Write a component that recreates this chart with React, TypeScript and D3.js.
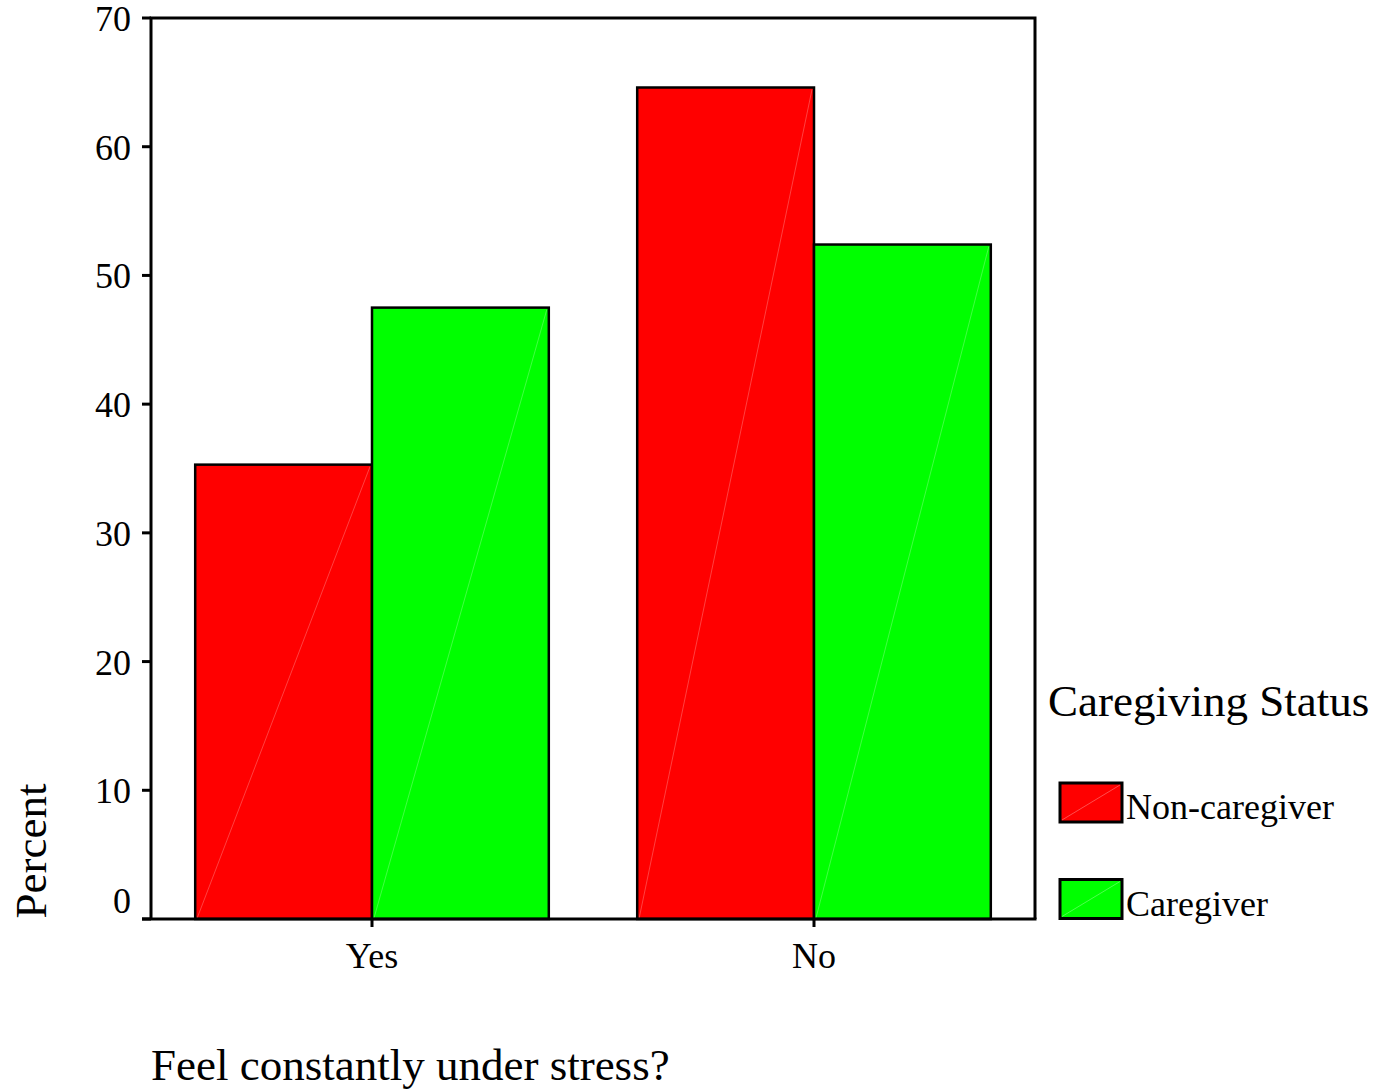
import React from "react";
import * as d3 from "d3";

const categories = ["Yes", "No"];
const seriesNames = ["Non-caregiver", "Caregiver"];
const nonCaregiver = [35.3, 64.6];
const caregiver = [47.5, 52.4];
const seriesColors = ["#ff0000", "#00ff00"];
const yTicks = [0, 10, 20, 30, 40, 50, 60, 70];

const FONT = "'Liberation Serif', 'Times New Roman', serif";

export default function App() {
  const W = 1376, H = 1090;
  const left = 151, right = 1035, top = 18, bottom = 919;
  const y = d3.scaleLinear().domain([0, 70]).range([bottom, top]);
  const x = d3.scaleBand<string>().domain(categories).range([left, right]).paddingInner(0.2).paddingOuter(0.1);
  const xs = d3.scaleBand<string>().domain(seriesNames).range([0, x.bandwidth()]);
  const series = [nonCaregiver, caregiver];

  return (
    <svg width={W} height={H} style={{ position: "absolute", left: 0, top: 0, background: "#fff" }}>
      <rect x={0} y={0} width={W} height={H} fill="#fff" />
      {categories.map((c, i) =>
        series.map((vals, s) => {
          const bx = (x(c) as number) + (xs(seriesNames[s]) as number);
          const bw = xs.bandwidth();
          const by = y(vals[i]);
          return (
            <g key={c + s}>
              <rect x={bx} y={by} width={bw} height={bottom - by} fill={seriesColors[s]} stroke="#000" strokeWidth={2.5} />
              <line x1={bx + 2} y1={bottom - 1} x2={bx + bw - 2} y2={by + 2} stroke="rgba(255,255,255,0.25)" strokeWidth={1} />
            </g>
          );
        })
      )}
      {/* frame */}
      <path d={`M${left},${bottom} L${left},${top} L${right},${top} L${right},${bottom}`} fill="none" stroke="#000" strokeWidth={3} />
      <line x1={left - 9} y1={bottom} x2={right + 1.5} y2={bottom} stroke="#000" strokeWidth={3} />
      {yTicks.map((t) => (
        <g key={t}>
          <line x1={left - 9} x2={left} y1={y(t)} y2={y(t)} stroke="#000" strokeWidth={3} />
          <text x={131} y={t === 0 ? y(t) - 6 : y(t) + 13} textAnchor="end" fontFamily={FONT} fontSize={36} fill="#000">{t}</text>
        </g>
      ))}
      {categories.map((c) => {
        const cx = (x(c) as number) + x.bandwidth() / 2;
        return (
          <g key={c}>
            <line x1={cx} x2={cx} y1={bottom} y2={bottom + 8} stroke="#000" strokeWidth={3} />
            <text x={cx} y={968} textAnchor="middle" fontFamily={FONT} fontSize={36} fill="#000">{c}</text>
          </g>
        );
      })}
      <text transform={`translate(46,851) rotate(-90)`} textAnchor="middle" fontFamily={FONT} fontSize={45} fill="#000">Percent</text>
      <text x={151} y={1080} fontFamily={FONT} fontSize={45} fill="#000">Feel constantly under stress?</text>
      {/* legend */}
      <text x={1048} y={716} fontFamily={FONT} fontSize={45} fill="#000">Caregiving Status</text>
      {seriesNames.map((n, s) => {
        const ly = 783 + s * 96.5;
        return (
          <g key={n}>
            <rect x={1060} y={ly} width={62} height={39} fill={seriesColors[s]} stroke="#000" strokeWidth={3} />
            <line x1={1062} y1={ly + 37} x2={1120} y2={ly + 2} stroke="rgba(255,255,255,0.3)" strokeWidth={1} />
            <text x={1126} y={ly + 36} fontFamily={FONT} fontSize={36} fill="#000">{n}</text>
          </g>
        );
      })}
    </svg>
  );
}
